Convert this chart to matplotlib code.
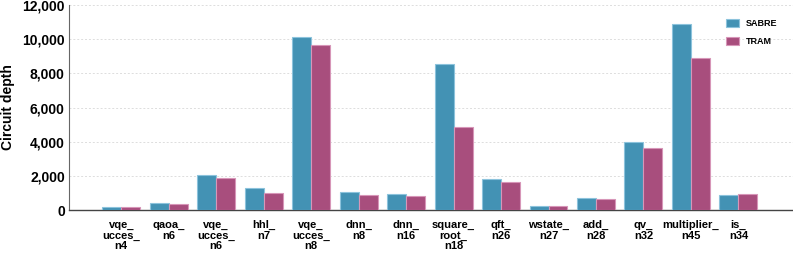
import numpy as np
import matplotlib.pyplot as plt
from matplotlib.ticker import FuncFormatter

plt.rcParams['font.family'] = ['Liberation Sans', 'DejaVu Sans']
plt.rcParams['font.weight'] = 'bold'

# data
benchmarks = ["vqe_\nucces_\nn4", "qaoa_\nn6", "vqe_\nucces_\nn6", "hhl_\nn7",
              "vqe_\nucces_\nn8", "dnn_\nn8", "dnn_\nn16", "square_\nroot_\nn18",
              "qft_\nn26", "wstate_\nn27", "add_\nn28", "qv_\nn32",
              "multiplier_\nn45", "is_\nn34"]
sabre = [180, 430, 2030, 1270, 10150, 1055, 920, 8550, 1815, 250, 720, 3985, 10915, 900]
tram = [170, 350, 1860, 980, 9650, 860, 800, 4860, 1640, 215, 645, 3615, 8905, 940]

x = np.arange(len(benchmarks))
w = 0.4

fig = plt.figure(figsize=(7.93, 2.54), dpi=100)
ax = fig.add_axes([69 / 793, 44 / 254, 724 / 793, 205 / 254])

ax.bar(x - w / 2, sabre, w, color="#4392b4", edgecolor="#8cc3dc", linewidth=0.8,
       label="SABRE", zorder=3)
ax.bar(x + w / 2, tram, w, color="#a84e7d", edgecolor="#d796b8", linewidth=0.8,
       label="TRAM", zorder=3)

ax.set_xlim(-1.1, 14.15)
ax.set_ylim(0, 12000)
ax.set_yticks(range(0, 12001, 2000))
ax.yaxis.set_major_formatter(FuncFormatter(lambda v, p: f"{int(v):,}"))
ax.set_xticks(x)
ax.set_xticklabels(benchmarks, fontsize=8, fontweight="bold", linespacing=1.1)
ax.tick_params(axis="x", length=0, pad=7)
ax.tick_params(axis="y", length=0, labelsize=10, pad=3)
ax.set_ylabel("Circuit depth", fontsize=10, fontweight="bold", labelpad=5)

ax.grid(axis="y", color="#dddddd", linestyle=(0, (2, 2)), linewidth=0.7, zorder=0)
for s in ["top", "right"]:
    ax.spines[s].set_visible(False)
ax.spines["left"].set_color("#666666")
ax.spines["left"].set_linewidth(0.8)
ax.spines["bottom"].set_color("#444444")
ax.spines["bottom"].set_linewidth(1.0)

ax.legend(loc="upper right", bbox_to_anchor=(0.99, 0.97), frameon=False,
          prop={"size": 6.5, "weight": "bold"}, handlelength=1.4, handleheight=1.0,
          labelspacing=0.9, handletextpad=0.8)

fig.savefig("out.png", dpi=100)
